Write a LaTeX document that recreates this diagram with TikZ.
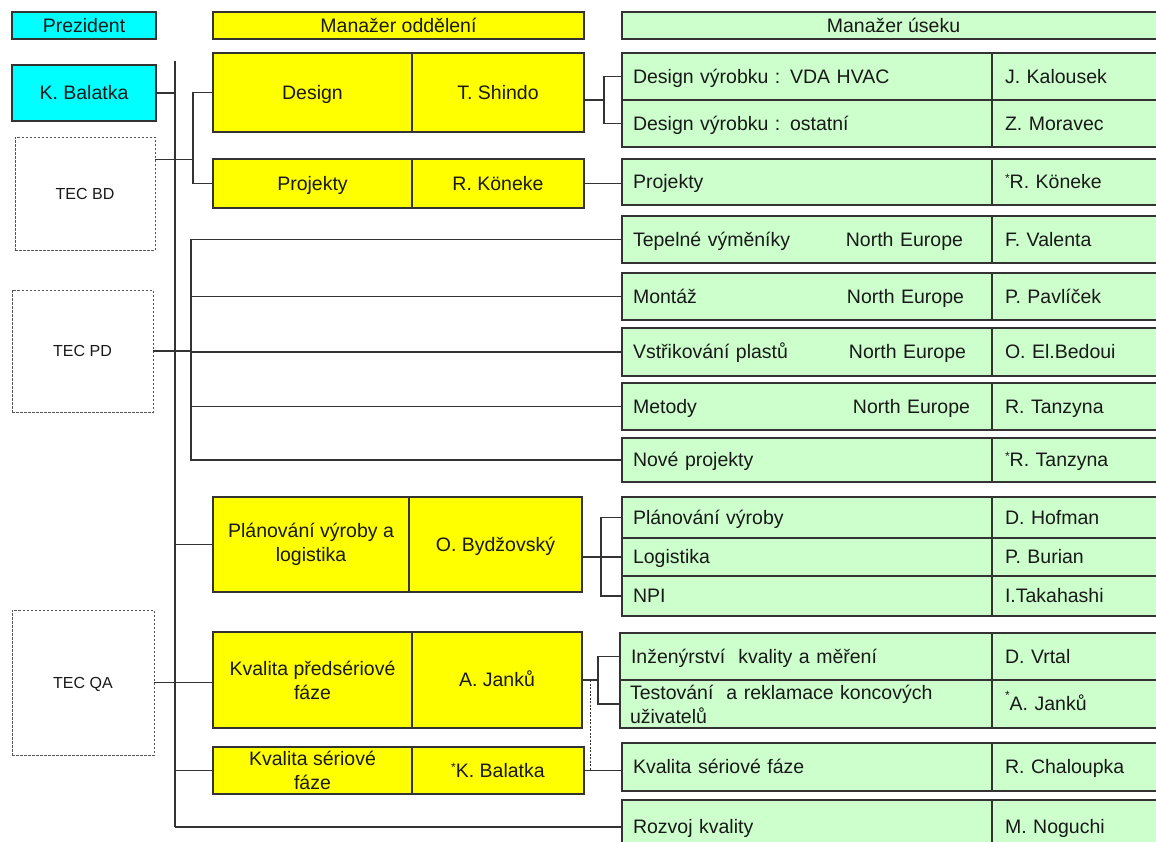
\documentclass[tikz,border=0pt]{standalone}
\usepackage{fontspec}
\setmainfont{Liberation Sans}
\usetikzlibrary{calc}
\definecolor{cy}{HTML}{00FFFF}
\definecolor{ye}{HTML}{FFFF00}
\definecolor{gn}{HTML}{CCFFCC}
\definecolor{ln}{HTML}{333333}
\definecolor{dl}{HTML}{555555}
\newcommand\myast{\raisebox{6pt}{\fontsize{12}{12}\selectfont *}}
\newcommand\myasthi{\raisebox{11pt}{\fontsize{12}{12}\selectfont *}}
\begin{document}
\begin{tikzpicture}[x=1pt,y=-1pt,
  every node/.style={font=\fontsize{19.5}{24}\selectfont, inner sep=0pt, outer sep=0pt, text=black!90, text height=13.8pt, text depth=0pt},
  two/.style={text height={}, text depth={}},
  box/.style={draw=ln, line width=1.3pt, anchor=north west},
  yb/.style={box, fill=ye, align=center},
  cb/.style={box, fill=cy, align=center},
  tec/.style={draw=dl, dash pattern=on 2.5pt off 1.5pt, line width=0.9pt, anchor=north west, font=\fontsize{16}{20}\selectfont, text height=11.4pt},
  gl/.style={box, fill=gn, minimum width=370pt, text width=348pt, inner xsep=11pt, align=left},
  gr/.style={box, fill=gn, minimum width=173pt, text width=147pt, inner xsep=13pt, align=left},
  conn/.style={draw=ln, line width=1.3pt},
  dconn/.style={draw=ln, line width=0.9pt, dash pattern=on 2pt off 1.5pt}]
\useasboundingbox[fill=white] (0,0) rectangle (1156,841);

% headers
\node[cb, minimum width=144pt, minimum height=27pt] (hp) at (12,12) {Prezident};
\node[yb, minimum width=371pt, minimum height=27pt] (hm) at (213,12) {Manažer oddělení};
\node[box, fill=gn, minimum width=543pt, minimum height=27pt] (hu) at (622,12) {Manažer úseku};

% left column
\node[cb, minimum width=144pt, minimum height=56pt] (kb) at (12,65) {K. Balatka};
\node[tec, minimum width=140pt, minimum height=113pt] (bd) at (15,137) {TEC BD};
\node[tec, minimum width=141pt, minimum height=122pt] (pd) at (12,290) {TEC PD};
\node[tec, minimum width=142pt, minimum height=145pt] (qa) at (12,610) {TEC QA};

% department managers
\node[yb, minimum width=199pt, minimum height=79pt] (dA) at (213,53) {Design};
\node[yb, minimum width=172pt, minimum height=79pt] (dB) at (412,53) {T. Shindo};
\node[yb, minimum width=199pt, minimum height=49pt] (pA) at (213,159) {Projekty};
\node[yb, minimum width=172pt, minimum height=49pt] (pB) at (412,159) {R. Köneke};
\node[yb, two, minimum width=196pt, minimum height=95pt] (plA) at (213,497) {Plánování výroby a\\logistika};
\node[yb, minimum width=173pt, minimum height=95pt] (plB) at (409,497) {O. Bydžovský};
\node[yb, two, minimum width=199pt, minimum height=96pt] (kpA) at (213,632) {Kvalita předsériové\\fáze};
\node[yb, minimum width=170pt, minimum height=96pt] (kpB) at (412,632) {A. Janků};
\node[yb, two, minimum width=199pt, minimum height=47pt] (ksA) at (213,747) {Kvalita sériové\\fáze};
\node[yb, minimum width=172pt, minimum height=47pt] (ksB) at (412,747) {\myast K. Balatka};

% section managers
\node[gl, minimum height=47pt] (dv1) at (622,53) {Design výrobku : VDA HVAC};
\node[gr, minimum height=47pt] (dv1n) at (992,53) {J. Kalousek};
\node[gl, minimum height=47pt] (dv2) at (622,100) {Design výrobku : ostatní};
\node[gr, minimum height=47pt] (dv2n) at (992,100) {Z. Moravec};
\node[gl, minimum height=46pt] (gp) at (622,159) {Projekty};
\node[gr, minimum height=46pt] (gpn) at (992,159) {\myast R. Köneke};

\node[gl, minimum height=47pt] (te) at (622,216) {\makebox[348pt][l]{Tepelné výměníky\hfill North Europe\hspace{18pt}}};
\node[gr, minimum height=47pt] (ten) at (992,216) {F. Valenta};
\node[gl, minimum height=47pt] (mo) at (622,273) {\makebox[348pt][l]{Montáž\hfill North Europe\hspace{17pt}}};
\node[gr, minimum height=47pt] (mon) at (992,273) {P. Pavlíček};
\node[gl, minimum height=48pt] (vs) at (622,328) {\makebox[348pt][l]{Vstřikování plastů\hfill North Europe\hspace{15pt}}};
\node[gr, minimum height=48pt] (vsn) at (992,328) {O. El.Bedoui};
\node[gl, minimum height=47pt] (me) at (622,383) {\makebox[348pt][l]{Metody\hfill North Europe\hspace{11pt}}};
\node[gr, minimum height=47pt] (men) at (992,383) {R. Tanzyna};
\node[gl, minimum height=44pt] (no) at (622,438) {Nové projekty};
\node[gr, minimum height=44pt] (non) at (992,438) {\myast R. Tanzyna};

\node[gl, minimum height=41pt] (pv) at (622,497) {Plánování výroby};
\node[gr, minimum height=41pt] (pvn) at (992,497) {D. Hofman};
\node[gl, minimum height=38pt] (lo) at (622,538) {Logistika};
\node[gr, minimum height=38pt] (lon) at (992,538) {P. Burian};
\node[gl, minimum height=40pt] (np) at (622,576) {NPI};
\node[gr, minimum height=40pt] (npn) at (992,576) {I.Takahashi};

\node[gl, minimum width=372pt, text width=350pt, minimum height=47pt] (in) at (620,633) {Inženýrství \ kvality a měření};
\node[gr, minimum height=47pt] (inn) at (992,633) {D. Vrtal};
\node[gl, two, minimum width=372pt, text width=352pt, minimum height=48pt, inner xsep=10pt] (ts) at (620,680) {Testování \ a reklamace koncových\\uživatelů};
\node[gr, minimum height=48pt] (tsn) at (992,680) {\myasthi A. Janků};
\node[gl, minimum height=48pt] (kq) at (622,743) {Kvalita sériové fáze};
\node[gr, minimum height=48pt] (kqn) at (992,743) {R. Chaloupka};
\node[gl, minimum height=54pt] (rk) at (622,800) {Rozvoj kvality};
\node[gr, minimum height=54pt] (rkn) at (992,800) {M. Noguchi};

% main bus
\coordinate (vtop) at (175,61);
\coordinate (vbot) at (175,827);
\draw[conn] (vtop) -- (vbot);
\draw[conn] (kb.east) -- (kb.east -| vtop);
\draw[conn] ($(bd.north east)!0.2!(bd.south east)$) -- ++(38,0);
\draw[conn] (dA.west) -- ++(-20,0) |- (pA.west);
\draw[conn] (pd.east) -- ++(38,0);
\draw[conn] (te.west) -- ++(-431,0) |- (no.west);
\foreach \n in {mo,vs,me} \draw[conn] (\n.west) -- ++(-431,0);
\draw[conn] (plA.west -| vtop) -- (plA.west);
\draw[conn] (qa.east) -- (qa.east -| kpA.west);
\draw[conn] (ksA.west -| vtop) -- (ksA.west);
\draw[conn] (vbot) -- (vbot -| rk.west);

% right-side connectors
\draw[conn] (dB.east |- dv1.south west) -- ++(20,0);
\draw[conn] (dv1.west) -- ++(-18,0) |- (dv2.west);
\draw[conn] (pB.east) -- (pB.east -| gp.west);
\draw[conn] (plB.east |- lo.west) -- (lo.west);
\draw[conn] (pv.west) -- ++(-21,0) |- (np.west);
\draw[conn] (kpB.east) -- ++(16,0);
\draw[conn] (in.west) -- ++(-22,0) |- (ts.west);
\path (kpB.east) ++(8,0) coordinate (dj);
\draw[dconn] (dj) -- (dj |- ksB.east);
\draw[conn] (ksB.east) -- (ksB.east -| kq.west);
\end{tikzpicture}
\end{document}
